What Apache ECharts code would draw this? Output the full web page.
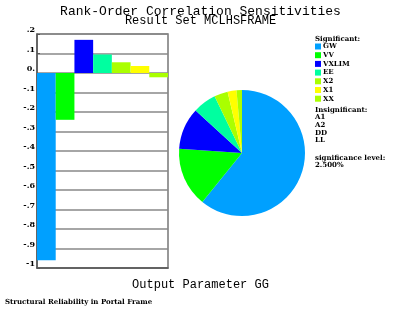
<!DOCTYPE html>
<html><head><meta charset="utf-8">
<script src="https://cdn.jsdelivr.net/npm/echarts@6/dist/echarts.min.js"></script>
<style>html,body{margin:0;padding:0;background:#fff}#c{width:401px;height:316px}</style>
</head><body><div id="c"></div>
<script>
var categories = ['GW','VV','VXLIM','EE','X2','X1','XX'];
var sensitivities = [-0.96, -0.24, 0.17, 0.095, 0.055, 0.036, -0.022];
var colors = ['#00A0FF','#00FF00','#0000FF','#00FFA0','#AAFF00','#FFFF00','#AAFF00'];
var yTickValues = [0.2,0.1,0,-0.1,-0.2,-0.3,-0.4,-0.5,-0.6,-0.7,-0.8,-0.9,-1];
var yTickLabels = ['.2','.1','0.','-.1','-.2','-.3','-.4','-.5','-.6','-.7','-.8','-.9','-1'];
var insignificant = ['A1','A2','DD','LL'];
var significanceLevel = '2.500%';

var chart = echarts.init(document.getElementById('c'), null, {renderer:'canvas'});
var smallFont = 'DejaVu Serif';
function tickLabel(v){
  for (var i=0;i<yTickValues.length;i++){ if (Math.abs(yTickValues[i]-v)<1e-6) return yTickLabels[i]; }
  return '';
}
var txt = {font:'bold 7px "DejaVu Serif"', fill:'#000', lineHeight:7.7};
var graphics = [
  {type:'text', left:315, top:35, style:Object.assign({text:'Significant:'}, txt)},
  {type:'text', left:315, top:106, style:Object.assign({text:'Insignificant:\n'+insignificant.join('\n')}, txt)},
  {type:'text', left:315, top:154, style:Object.assign({text:'significance level:\n'+significanceLevel}, txt)},
  {type:'text', left:5, top:299, style:{text:'Structural Reliability in Portal Frame', font:'bold 7px "DejaVu Serif"', fill:'#000'}}
];
chart.setOption({
  animation:false,
  title:[
    {text:'Rank-Order Correlation Sensitivities', left:'center', top:5, padding:0,
     textStyle:{fontFamily:'Liberation Mono', fontWeight:'normal', fontSize:13, color:'#000'}},
    {text:'Result Set MCLHSFRAME', left:'center', top:15, padding:0,
     textStyle:{fontFamily:'Liberation Mono', fontWeight:'normal', fontSize:12, color:'#000'}},
    {text:'Output Parameter GG', left:'center', top:279, padding:0,
     textStyle:{fontFamily:'Liberation Mono', fontWeight:'normal', fontSize:12, color:'#000'}}
  ],
  grid:{left:37, right:233, top:34, bottom:48, show:true, borderColor:'#777', borderWidth:1.5, backgroundColor:'transparent'},
  xAxis:{type:'category', data:categories, axisLabel:{show:false}, axisTick:{show:false},
    axisLine:{show:true, onZero:false, lineStyle:{color:'#555', width:1.5}}, splitLine:{show:false}},
  yAxis:{type:'value', min:-1, max:0.2, interval:0.1,
    axisLine:{show:true, lineStyle:{color:'#555', width:1.5}},
    axisTick:{show:true, length:3, inside:true, lineStyle:{color:'#555'}},
    axisLabel:{formatter:tickLabel, margin:2, fontFamily:smallFont, fontWeight:'bold', fontSize:8, color:'#000', verticalAlign:'bottom'},
    splitLine:{show:true, lineStyle:{color:'#888', width:1.5}}},
  legend:{orient:'vertical', left:315, top:43, itemWidth:6, itemHeight:6, itemGap:1.7, icon:'rect',
    selectedMode:false, padding:0,
    textStyle:{fontFamily:smallFont, fontWeight:'bold', fontSize:7, color:'#000', lineHeight:6, padding:[0,0,0,-3]},
    data:categories},
  series:[
    {type:'bar', data:sensitivities.map(function(v,i){return {value:v, itemStyle:{color:colors[i]}};}),
     barWidth:'100%', barCategoryGap:0, silent:true, z:3},
    {type:'pie', center:[242,153], radius:63, startAngle:90, clockwise:true, silent:true,
     label:{show:false}, labelLine:{show:false},
     data:categories.map(function(c,i){return {name:c, value:Math.abs(sensitivities[i]), itemStyle:{color:colors[i]}};})}
  ],
  graphic:graphics
});
</script></body></html>
